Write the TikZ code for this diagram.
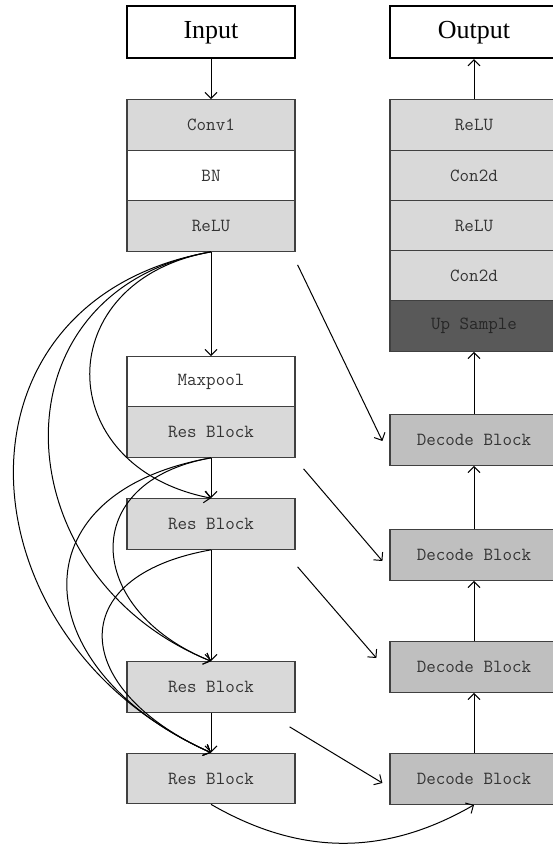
\documentclass[tikz,border=0pt]{standalone}
\usepackage{fontspec}
\setmainfont{Liberation Serif}
\usetikzlibrary{arrows.meta,calc}

\definecolor{lightgrey}{HTML}{D9D9D9}
\definecolor{midgrey}{HTML}{BFBFBF}
\definecolor{darkgrey}{HTML}{595959}
\definecolor{textgrey}{HTML}{333333}
\definecolor{edgegrey}{HTML}{404040}

\begin{document}
\begin{tikzpicture}[x=1pt,y=1pt,
    io/.style={draw=black, line width=1.6pt, minimum width=168pt,
      minimum height=52pt, inner sep=0pt, font=\fontsize{26}{30}\selectfont},
    layer/.style={draw=edgegrey, line width=1.2pt, minimum width=168pt,
      minimum height=50.5pt, inner sep=0pt, text=textgrey,
      font=\ttfamily\fontsize{18.5}{22}\selectfont},
    arr/.style={line width=1pt, -{Straight Barb[length=6pt,width=12pt]}}]
    \useasboundingbox (0,0) rectangle (553,-845);
    \clip (0,0) rectangle (553,-845);

    % encoder side
    \node[io] (input) at (211,-32.3) {Input};
    \node[layer,fill=lightgrey] (conv) at (211,-125) {Conv1};
    \node[layer,fill=white] (bn) at (211,-175.5) {BN};
    \node[layer,fill=lightgrey] (relu) at (211,-226) {ReLU};
    \node[layer,fill=white] (maxpool) at (211,-382) {Maxpool};
    \node[layer,fill=lightgrey] (res1) at (211,-432) {Res Block};
    \node[layer,fill=lightgrey] (res2) at (211,-524) {Res Block};
    \node[layer,fill=lightgrey] (res3) at (211,-687) {Res Block};
    \node[layer,fill=lightgrey] (res4) at (211,-778.5) {Res Block};

    % decoder side
    \node[io] (output) at (474,-32.3) {Output};
    \node[layer,fill=lightgrey] (outrelu) at (474,-125) {ReLU};
    \node[layer,fill=lightgrey] (outconv) at (474,-175.5) {Con2d};
    \node[layer,fill=lightgrey] (relu2) at (474,-226) {ReLU};
    \node[layer,fill=lightgrey] (conv2) at (474,-276) {Con2d};
    \node[layer,fill=darkgrey,text=black!85] (upsample) at (474,-326) {Up Sample};
    \node[layer,fill=midgrey] (dec1) at (474,-440) {Decode Block};
    \node[layer,fill=midgrey] (dec2) at (474,-555) {Decode Block};
    \node[layer,fill=midgrey] (dec3) at (474,-667) {Decode Block};
    \node[layer,fill=midgrey] (dec4) at (474,-779) {Decode Block};

    % main path
    \draw[arr] (input) -- (conv);
    \draw[arr] (relu) -- (maxpool);
    \draw[arr] (res1) -- (res2);
    \draw[arr] (res2) -- (res3);
    \draw[arr] (res3) -- (res4);
    \draw[arr] (dec4) -- (dec3);
    \draw[arr] (dec3) -- (dec2);
    \draw[arr] (dec2) -- (dec1);
    \draw[arr] (dec1) -- (upsample);
    \draw[arr] (outrelu) -- (output);
    \draw[arr] (res4.south) to[out=-30,in=-150] (dec4.south);

    % dense skips
    \draw[arr] (relu.south) to[out=-170,in=169,looseness=1.71] (res2.north);
    \draw[arr] (relu.south) to[out=-170,in=158,looseness=1.42] (res3.north);
    \draw[arr] (relu.south) to[out=-170,in=156,looseness=1.42] (res4.north);
    \draw[arr] (res1.south) to[out=-170,in=158,looseness=1.72] (res3.north);
    \draw[arr] (res1.south) to[out=-170,in=156,looseness=1.76] (res4.north);
    \draw[arr] (res2.south) to[out=-170,in=156,looseness=1.93] (res4.north);

    % encoder to decoder
    \draw[arr] ($(relu.south east)+(2,-13)$) -- ($(dec1.west)+(-7,-1)$);
    \draw[arr] ($(res1.south east)+(8,-11)$) -- ($(dec2.west)+(-7,-6)$);
    \draw[arr] ($(res2.south east)+(2,-17)$) -- ($(dec3.west)+(-13,9)$);
    \draw[arr] ($(res3.south east)+(-6,-14)$) -- ($(dec4.west)+(-7,-4)$);
\end{tikzpicture}
\end{document}
